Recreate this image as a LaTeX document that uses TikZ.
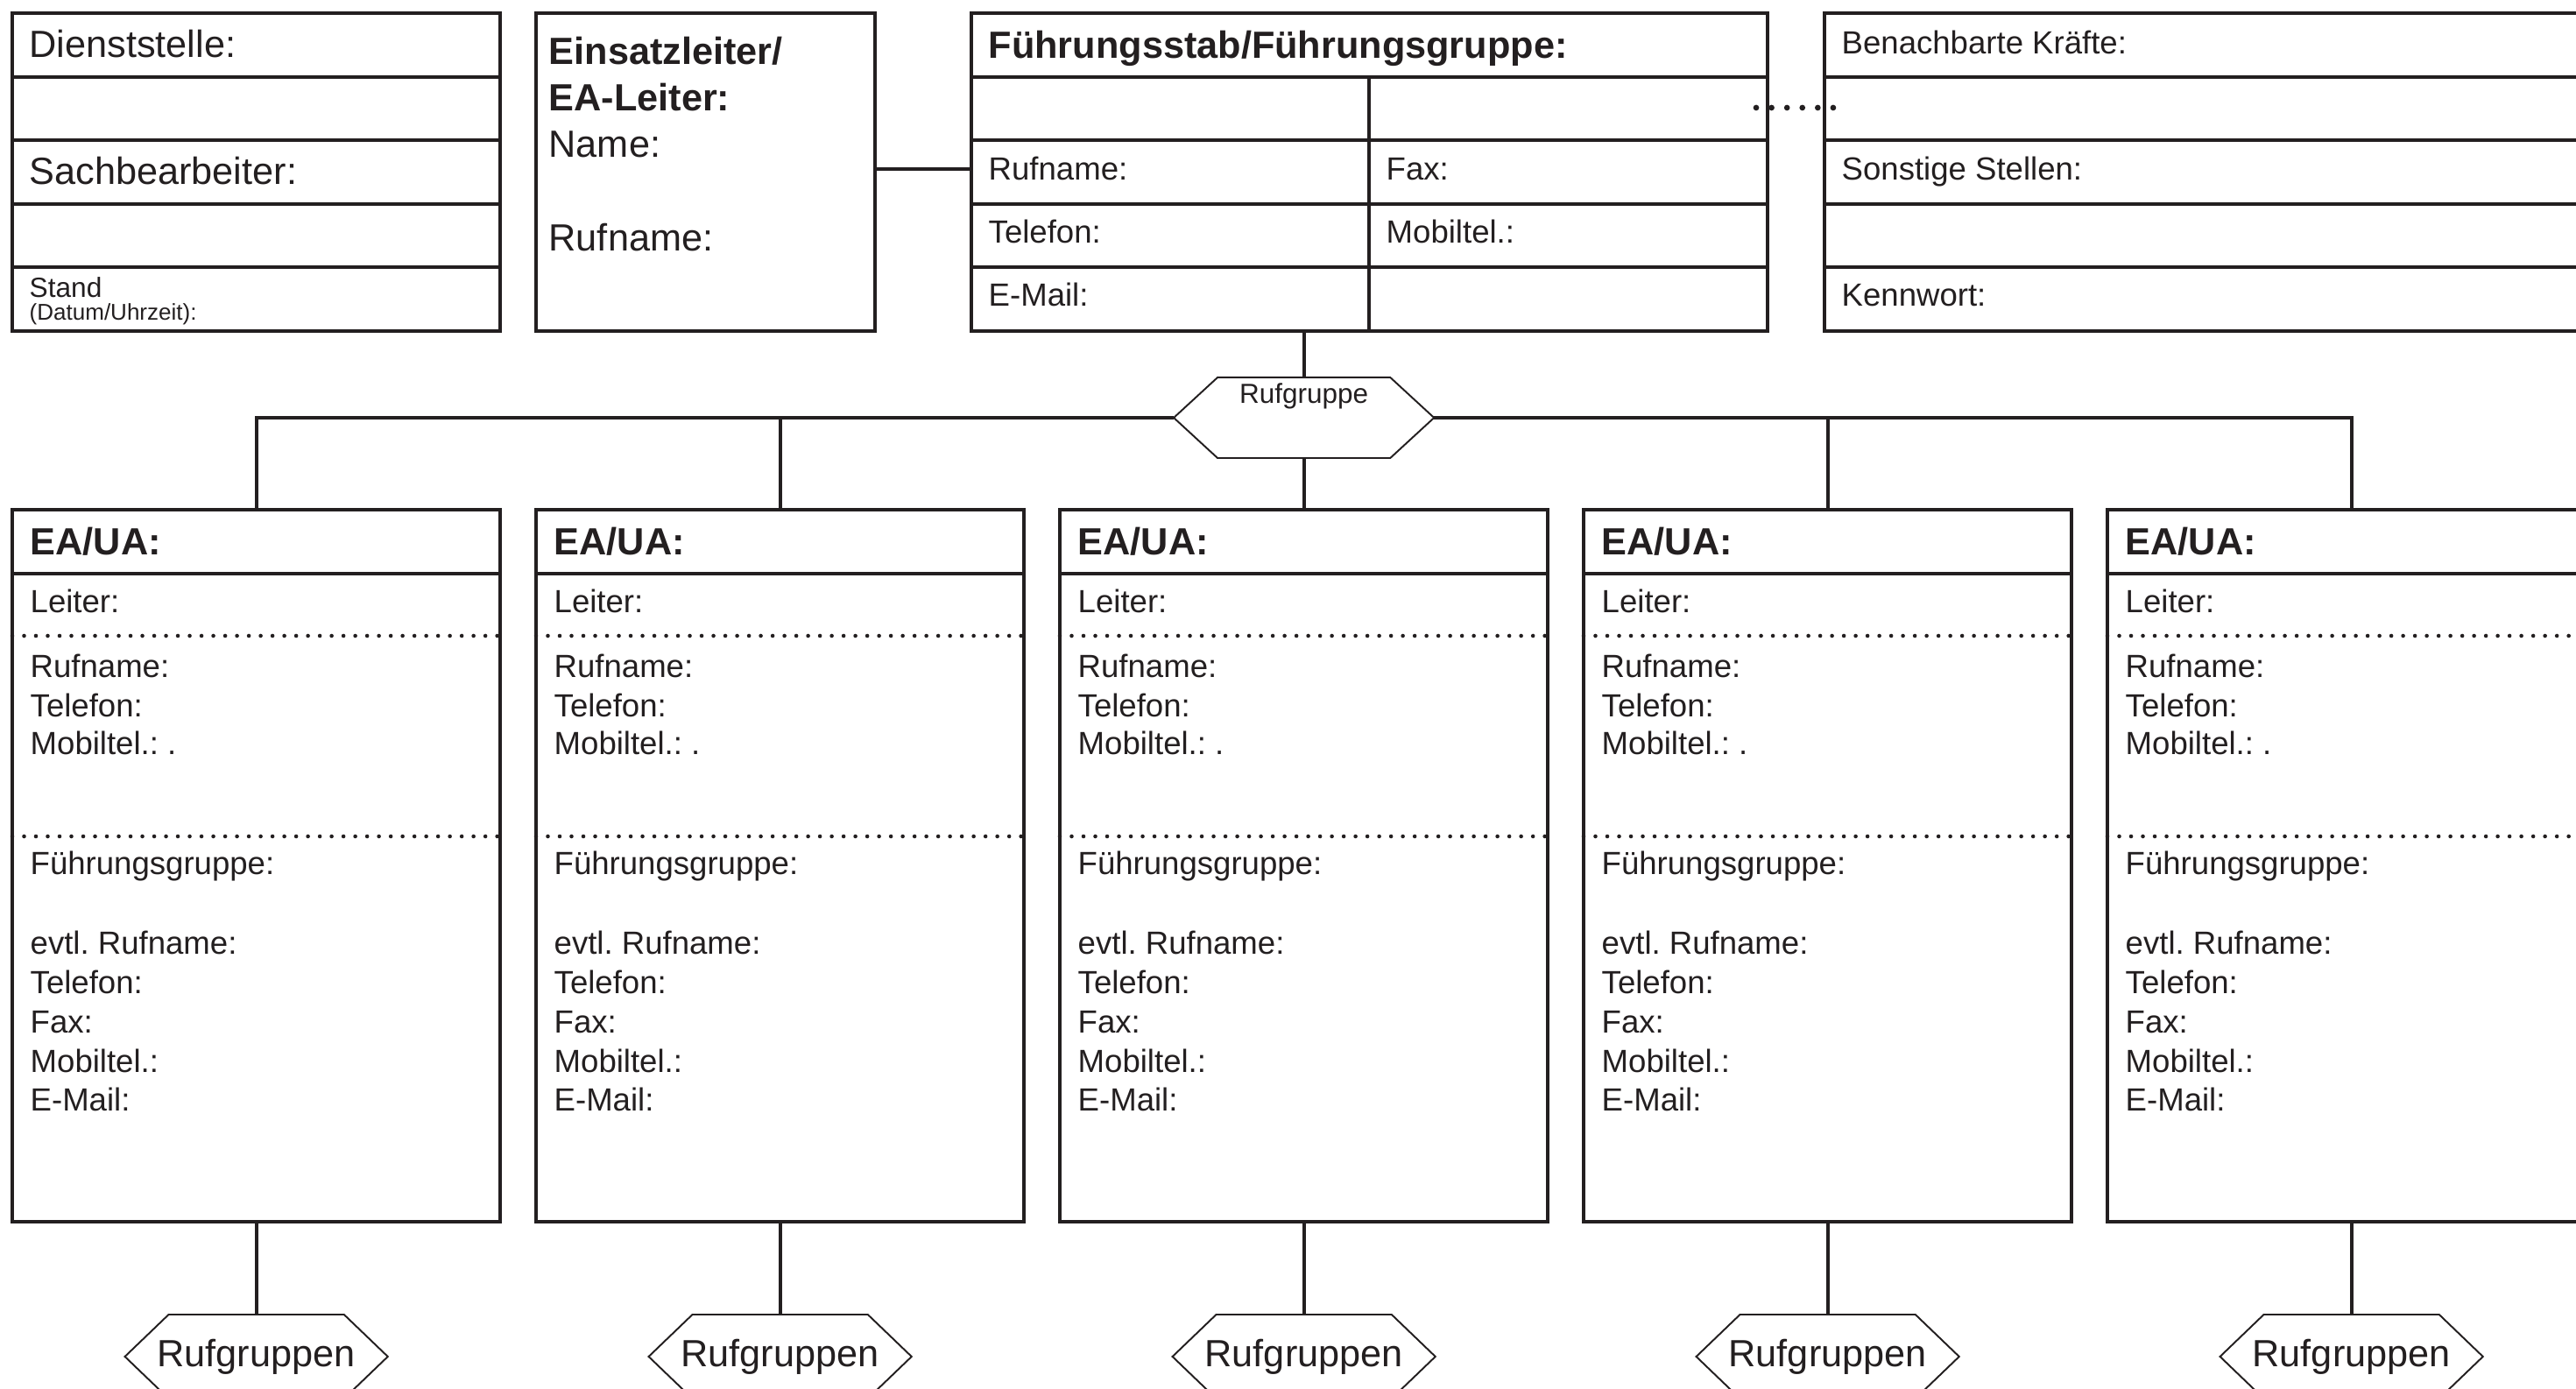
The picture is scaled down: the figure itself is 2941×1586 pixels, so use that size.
\documentclass[tikz,border=0pt]{standalone}
\usepackage{fontspec}
\setmainfont{Liberation Sans}
\usetikzlibrary{calc}
\definecolor{ink}{HTML}{231F20}
\frenchspacing
\tikzset{
  frame/.style={draw=ink, line width=1.15pt, rectangle, inner sep=0pt, outer sep=0pt, anchor=north west},
  rule/.style={draw=ink, line width=1.15pt},
  dotrule/.style={draw=ink, line width=1.3pt, line cap=round, dash pattern=on 0pt off 3.84pt},
  dotlink/.style={draw=ink, line width=1.9pt, line cap=round, dash pattern=on 0pt off 5pt},
  conn/.style={draw=ink, line width=1.15pt},
  hexline/.style={draw=ink, line width=0.55pt, line join=miter},
  hexbox/.style={rectangle, inner sep=0pt, outer sep=0pt, minimum width=3cm, minimum height=0.96cm, text=ink, font=\fontsize{12.3}{14}\selectfont},
  big/.style={anchor=base west, inner sep=0pt, text=ink, font=\fontsize{12.3}{14}\selectfont},
  bigb/.style={anchor=base west, inner sep=0pt, text=ink, font=\fontsize{12.3}{14}\selectfont\bfseries},
  small/.style={anchor=base west, inner sep=0pt, text=ink, font=\fontsize{10.4}{12}\selectfont},
}
\begin{document}
\begin{tikzpicture}[x=0.01cm,y=-0.01cm]
\useasboundingbox (0,0) rectangle (2941,1586);
\clip (0,0) rectangle (2941,1586);
\fill[white] (0,0) rectangle (2941,1586);

% ---------- Box 1: Dienststelle ----------
\node[frame, minimum width=5.57cm, minimum height=3.63cm] (b1) at (14,15) {};
\foreach \yy in {87.6,160.2,232.8,305.4} \draw[rule] (14,\yy) -- (571,\yy);
\node[big] (t11) at (33,66) {Dienststelle:};
\node[big] (t12) at (33,211) {Sachbearbeiter:};
\node[anchor=base west, inner sep=0pt, text=ink, font=\fontsize{9}{10}\selectfont] (t13) at (33,340) {Stand};
\node[anchor=base west, inner sep=0pt, text=ink, font=\fontsize{7.4}{8}\selectfont] (t14) at (33,366) {(Datum/Uhrzeit):};

% ---------- Box 2: Einsatzleiter ----------
\node[frame, minimum width=3.87cm, minimum height=3.63cm] (b2) at (612,15) {};
\node[bigb] (t21) at (626,74) {Einsatzleiter/};
\node[bigb] (t22) at (626,127) {EA-Leiter:};
\node[big] (t23) at (626,180) {Name:};
\node[big] (t24) at (626,287) {Rufname:};

% ---------- Box 3: Fuehrungsstab ----------
\node[frame, minimum width=9.08cm, minimum height=3.63cm] (b3) at (1109,15) {};
\foreach \yy in {87.6,160.2,232.8,305.4} \draw[rule] (1109,\yy) -- (2017,\yy);
\draw[rule] (1563,87.6) -- (1563,378);
\node[bigb] (t31) at (1128,67) {Führungsstab/Führungsgruppe:};
\node[small] (t32) at (1128,206) {Rufname:};
\node[small] (t33) at (1128,278) {Telefon:};
\node[small] (t34) at (1128,350) {E-Mail:};
\node[small] (t35) at (1582,206) {Fax:};
\node[small] (t36) at (1582,278) {Mobiltel.:};

% ---------- Box 4: Benachbarte Kraefte ----------
\node[frame, minimum width=9.2cm, minimum height=3.63cm] (b4) at (2083,15) {};
\foreach \yy in {87.6,160.2,232.8,305.4} \draw[rule] (2083,\yy) -- (3010,\yy);
\node[small] (t41) at (2102,62) {Benachbarte Kräfte:};
\node[small] (t42) at (2102,206) {Sonstige Stellen:};
\node[small] (t43) at (2102,350) {Kennwort:};

% dotted link between box 3 and box 4
\coordinate (d1) at (2005,123);
\coordinate (d2) at (2099,123);
\draw[dotlink] (d1) -- (d2);

% ---------- EA/UA boxes ----------
\foreach \i in {1,...,5} {
  \pgfmathsetmacro{\L}{14+598*(\i-1)}
  \pgfmathsetmacro{\T}{\L+20}
  \node[frame, minimum width=5.57cm, minimum height=8.13cm] (ea\i) at (\L,582) {};
  \draw[rule] (\L,655) -- ++(557,0);
  \draw[dotrule] (\L,726) -- ++(557,0);
  \draw[dotrule] (\L,955) -- ++(557,0);
  \node[bigb] (ta\i) at (\T,634) {EA/UA:};
  \node[small] (tb\i) at (\T,700) {Leiter:};
  \node[small] (tc\i) at (\T,774) {Rufname:};
  \node[small] (td\i) at (\T,819) {Telefon:};
  \node[small] (te\i) at (\T,862) {Mobiltel.: .};
  \node[small] (tf\i) at (\T,999) {Führungsgruppe:};
  \node[small] (tg\i) at (\T,1090) {evtl. Rufname:};
  \node[small] (th\i) at (\T,1135) {Telefon:};
  \node[small] (ti\i) at (\T,1180) {Fax:};
  \node[small] (tj\i) at (\T,1225) {Mobiltel.:};
  \node[small] (tk\i) at (\T,1269) {E-Mail:};
  % bottom hexagon
  \node[hexbox] (rh\i) at (ea\i.south |- 0,1549) {Rufgruppen};
  \draw[hexline] (rh\i.west) -- ($(rh\i.north west)+(50,0)$) -- ($(rh\i.north east)+(-50,0)$) -- (rh\i.east) -- ($(rh\i.south east)+(-50,0)$) -- ($(rh\i.south west)+(50,0)$) -- cycle;
  \draw[conn] (ea\i.south) -- (rh\i.north);
}

% ---------- central hexagon ----------
\node[rectangle, inner sep=0pt, outer sep=0pt, minimum width=2.97cm, minimum height=0.92cm] (rg) at (ea3.north |- 0,477) {};
\draw[hexline] (rg.west) -- ($(rg.north west)+(50,0)$) -- ($(rg.north east)+(-50,0)$) -- (rg.east) -- ($(rg.south east)+(-50,0)$) -- ($(rg.south west)+(50,0)$) -- cycle;
\node[anchor=base, inner sep=0pt, text=ink, font=\fontsize{8.95}{10}\selectfont] (rgt) at (rg.north |- 0,461) {Rufgruppe};

% ---------- connectors ----------
\draw[conn] (b2.east |- 0,193) -- (b3.west |- 0,193);
\draw[conn] (rg.north) -- (rg.north |- b3.south);
\draw[conn] (rg.south) -- (ea3.north);
\draw[conn] (rg.west) -| (ea1.north);
\draw[conn] (rg.west) -| (ea2.north);
\draw[conn] (rg.east) -| (ea4.north);
\draw[conn] (rg.east) -| (ea5.north);
\end{tikzpicture}
\end{document}
